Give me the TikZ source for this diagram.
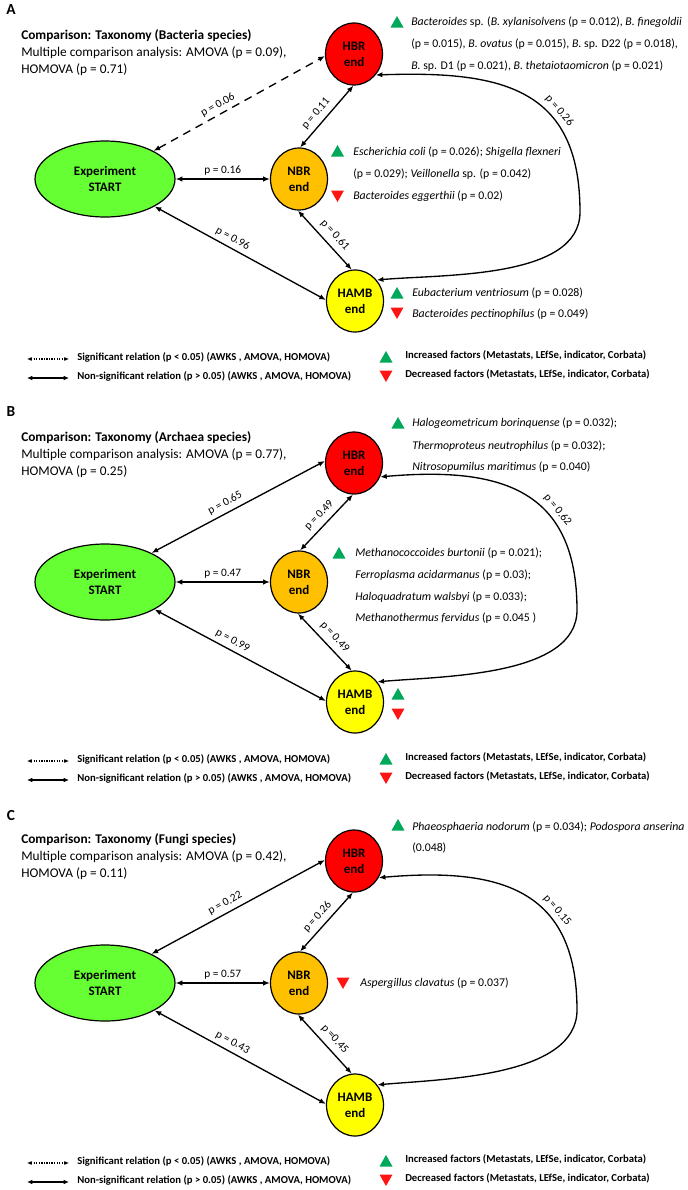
\documentclass[tikz,border=0pt]{standalone}
\usepackage{fontspec}
\setmainfont{Carlito}
\usetikzlibrary{arrows.meta,shapes.geometric}

\definecolor{hbrred}{RGB}{255,0,0}
\definecolor{nbrorange}{RGB}{255,192,0}
\definecolor{hambyellow}{RGB}{255,255,0}
\definecolor{startgreen}{RGB}{102,255,51}
\definecolor{upgreen}{RGB}{0,168,89}
\definecolor{downred}{RGB}{255,20,20}

\begin{document}
\begin{tikzpicture}[x=0.75pt,y=-0.75pt,
    site/.style={ellipse,draw,line width=0.9pt,minimum width=42.75pt,minimum height=46.5pt,inner sep=0pt,align=center,font=\fontsize{9.75}{12}\selectfont\bfseries},
    startnode/.style={site,minimum width=105pt,minimum height=57pt,fill=startgreen},
    rel/.style={{Latex[length=5pt,width=4pt]}-{Latex[length=5pt,width=4pt]},line width=1pt},
    sigrel/.style={rel,dash pattern=on 6pt off 4.5pt},
    pval/.style={font=\fontsize{8.5}{10}\selectfont,inner sep=1.5pt},
    titletext/.style={anchor=west,inner sep=0pt,font=\fontsize{10}{12}\selectfont},
    titlebold/.style={titletext,font=\fontsize{10}{12}\selectfont\bfseries},
    species/.style={anchor=west,inner sep=0pt,font=\fontsize{8.85}{11}\selectfont},
    legendtext/.style={anchor=west,inner sep=0pt,font=\fontsize{8}{9.5}\selectfont\bfseries},
    paneltag/.style={inner sep=0pt,font=\fontsize{11.5}{13}\selectfont\bfseries},
    uptri/.pic={\fill[upgreen] (-6.5,5.5) -- (6.5,5.5) -- (0,-6) -- cycle;},
    downtri/.pic={\fill[downred] (-6.5,-5.5) -- (6.5,-5.5) -- (0,6) -- cycle;}
]
\useasboundingbox (0,0) rectangle (688,1190);

% legend, the same under every panel
\foreach \yo in {0,402,804}{
  \begin{scope}[shift={(0,\yo)}]
    \coordinate (sig-a\yo) at (27,359);
    \coordinate (sig-b\yo) at (69,359);
    \coordinate (ns-a\yo) at (27,378);
    \coordinate (ns-b\yo) at (69,378);
    \draw[{Latex[length=3.5pt,width=3pt]}-{Latex[length=3.5pt,width=3pt]},densely dotted,line width=0.9pt] (sig-a\yo) -- (sig-b\yo);
    \draw[{Latex[length=4pt,width=3.5pt]}-{Latex[length=4pt,width=3.5pt]},line width=1.4pt] (ns-a\yo) -- (ns-b\yo);
    \node[legendtext] (sig-t\yo) at (77,357.5) {Significant relation (p < 0.05) (AWKS , AMOVA, HOMOVA)};
    \node[legendtext] (ns-t\yo) at (77,376.5) {Non-significant relation (p > 0.05) (AWKS , AMOVA, HOMOVA)};
    \pic at (386,357) {uptri};
    \pic at (386,376) {downtri};
    \node[legendtext] (inc-t\yo) at (405,355.5) {Increased factors (Metastats, LEfSe, indicator, Corbata)};
    \node[legendtext] (dec-t\yo) at (405,374.5) {Decreased factors (Metastats, LEfSe, indicator, Corbata)};
  \end{scope}
}

% A: bacteria
\begin{scope}
  \node[paneltag] (A-tag) at (11,10) {A};
  \node[titlebold] (A-title) at (21,36) {Comparison: Taxonomy (Bacteria species)};
  \node[titletext] (A-amova) at (21,52.7) {Multiple comparison analysis: AMOVA (p = 0.09),};
  \node[titletext] (A-homova) at (21,69.3) {HOMOVA (p = 0.71)};

  \node[startnode] (A-start) at (105,179) {Experiment\\START};
  \node[site,fill=hbrred] (A-hbr) at (354,54) {HBR\\end};
  \node[site,fill=nbrorange] (A-nbr) at (299,179) {NBR\\end};
  \node[site,fill=hambyellow] (A-hamb) at (355,301) {HAMB\\end};
  \coordinate (A-loop) at (580,212);

  \draw[sigrel] (A-start.30) -- node[pval,pos=0.4,above=1pt,sloped] (A-p1) {p = 0.06} (A-hbr.184);
  \draw[rel] (A-start.0) -- node[pval,above=1pt] (A-p2) {p = 0.16} (A-nbr.180);
  \draw[rel] (A-start.-29) -- node[pval,pos=0.43,above=1.5pt,sloped] (A-p3) {p = 0.96} (A-hamb.178);
  \draw[rel] (A-nbr.88) -- node[pval,pos=0.44,above=2pt,sloped] (A-p4) {p = 0.11} (A-hbr.269);
  \draw[rel] (A-nbr.268) -- node[pval,pos=0.54,above=2.5pt,sloped] (A-p5) {p = 0.61} (A-hamb.96);
  \draw[rel] (A-hbr.316) to[out=2,in=90,looseness=1.3] node[pval,pos=0.65,above=1.5pt,sloped] (A-p6) {p = 0.26} (A-loop)
    to[out=-90,in=5,looseness=0.8] (A-hamb.44);

  \pic at (397,22) {uptri};
  \node[species] (A-hbr-l1) at (411,22) {\textit{Bacteroides} sp. (\textit{B. xylanisolvens} (p = 0.012), \textit{B. finegoldii}};
  \node[species] (A-hbr-l2) at (411,44.5) {(p = 0.015), \textit{B. ovatus} (p = 0.015), \textit{B.} sp. D22 (p = 0.018),};
  \node[species] (A-hbr-l3) at (411,66) {\textit{B.} sp. D1 (p = 0.021), \textit{B. thetaiotaomicron} (p = 0.021)};
  \pic at (337.5,151) {uptri};
  \node[species] (A-nbr-l1) at (353,152) {\textit{Escherichia coli} (p = 0.026); \textit{Shigella flexneri}};
  \node[species] (A-nbr-l2) at (353,174) {(p = 0.029); \textit{Veillonella} sp. (p = 0.042)};
  \pic at (337.5,196) {downtri};
  \node[species] (A-nbr-l3) at (353,196) {\textit{Bacteroides eggerthii} (p = 0.02)};
  \pic at (397,293) {uptri};
  \node[species] (A-hamb-l1) at (412,293) {\textit{Eubacterium ventriosum} (p = 0.028)};
  \pic at (397,313) {downtri};
  \node[species] (A-hamb-l2) at (412,314) {\textit{Bacteroides pectinophilus} (p = 0.049)};
\end{scope}

% B: archaea
\begin{scope}[shift={(0,402)}]
  \node[paneltag] (B-tag) at (11,10) {B};
  \node[titlebold] (B-title) at (21,36) {Comparison: Taxonomy (Archaea species)};
  \node[titletext] (B-amova) at (21,52.7) {Multiple comparison analysis: AMOVA (p = 0.77),};
  \node[titletext] (B-homova) at (21,69.3) {HOMOVA (p = 0.25)};

  \node[startnode] (B-start) at (105,180) {Experiment\\START};
  \node[site,fill=hbrred] (B-hbr) at (354,61) {HBR\\end};
  \node[site,fill=nbrorange] (B-nbr) at (299,180) {NBR\\end};
  \node[site,fill=hambyellow] (B-hamb) at (355,300) {HAMB\\end};
  \coordinate (B-loop) at (577,208);

  \draw[rel] (B-start.32) -- node[pval,pos=0.45,above=1.5pt,sloped] (B-p1) {p = 0.65} (B-hbr.176);
  \draw[rel] (B-start.0) -- node[pval,above=1pt] (B-p2) {p = 0.47} (B-nbr.180);
  \draw[rel] (B-start.-29) -- node[pval,pos=0.43,above=1.5pt,sloped] (B-p3) {p = 0.99} (B-hamb.178);
  \draw[rel] (B-nbr.88) -- node[pval,pos=0.5,above=2pt,sloped] (B-p4) {p = 0.49} (B-hbr.268);
  \draw[rel] (B-nbr.268) -- node[pval,pos=0.54,above=2.5pt,sloped] (B-p5) {p = 0.49} (B-hamb.96);
  \draw[rel] (B-hbr.332) to[out=5,in=90,looseness=1.3] node[pval,pos=0.65,above=1.5pt,sloped] (B-p6) {p = 0.62} (B-loop)
    to[out=-90,in=5,looseness=0.8] (B-hamb.42);

  \pic at (398,21) {uptri};
  \node[species] (B-hbr-l1) at (412,21.3) {\textit{Halogeometricum borinquense} (p = 0.032);};
  \node[species] (B-hbr-l2) at (412,44) {\textit{Thermoproteus neutrophilus} (p = 0.032);};
  \node[species] (B-hbr-l3) at (412,65.3) {\textit{Nitrosopumilus maritimus} (p = 0.040)};
  \pic at (339,151) {uptri};
  \node[species] (B-nbr-l1) at (355,151.3) {\textit{Methanococcoides burtonii} (p = 0.021);};
  \node[species] (B-nbr-l2) at (355,173) {\textit{Ferroplasma acidarmanus} (p = 0.03);};
  \node[species] (B-nbr-l3) at (355,194.7) {\textit{Haloquadratum walsbyi} (p = 0.033);};
  \node[species] (B-nbr-l4) at (355,216.3) {\textit{Methanothermus fervidus} (p = 0.045 )};
  \pic at (398,292) {uptri};
  \pic at (398,312) {downtri};
\end{scope}

% C: fungi
\begin{scope}[shift={(0,804)}]
  \node[paneltag] (C-tag) at (11,12) {C};
  \node[titlebold] (C-title) at (21,36) {Comparison: Taxonomy (Fungi species)};
  \node[titletext] (C-amova) at (21,52.7) {Multiple comparison analysis: AMOVA (p = 0.42),};
  \node[titletext] (C-homova) at (21,69.3) {HOMOVA (p = 0.11)};

  \node[startnode] (C-start) at (105,179) {Experiment\\START};
  \node[site,fill=hbrred] (C-hbr) at (354,57) {HBR\\end};
  \node[site,fill=nbrorange] (C-nbr) at (299,179) {NBR\\end};
  \node[site,fill=hambyellow] (C-hamb) at (355,301) {HAMB\\end};
  \coordinate (C-loop) at (577,206);

  \draw[rel] (C-start.32) -- node[pval,pos=0.45,above=1.5pt,sloped] (C-p1) {p = 0.22} (C-hbr.178);
  \draw[rel] (C-start.0) -- node[pval,above=1pt] (C-p2) {p = 0.57} (C-nbr.180);
  \draw[rel] (C-start.-29) -- node[pval,pos=0.43,above=1.5pt,sloped] (C-p3) {p = 0.43} (C-hamb.178);
  \draw[rel] (C-nbr.88) -- node[pval,pos=0.47,above=2pt,sloped] (C-p4) {p = 0.26} (C-hbr.268);
  \draw[rel] (C-nbr.268) -- node[pval,pos=0.54,above=2.5pt,sloped] (C-p5) {p =0.45} (C-hamb.96);
  \draw[rel] (C-hbr.326) to[out=5,in=90,looseness=1.3] node[pval,pos=0.65,above=1.5pt,sloped] (C-p6) {p = 0.15} (C-loop)
    to[out=-90,in=5,looseness=0.8] (C-hamb.42);

  \pic at (398,21) {uptri};
  \node[species] (C-hbr-l1) at (412,22.7) {\textit{Phaeosphaeria nodorum} (p = 0.034); \textit{Podospora anserina}};
  \node[species] (C-hbr-l2) at (412,44.3) {(0.048)};
  \pic at (343,179) {downtri};
  \node[species] (C-nbr-l1) at (360,179.3) {\textit{Aspergillus clavatus} (p = 0.037)};
\end{scope}
\end{tikzpicture}
\end{document}
